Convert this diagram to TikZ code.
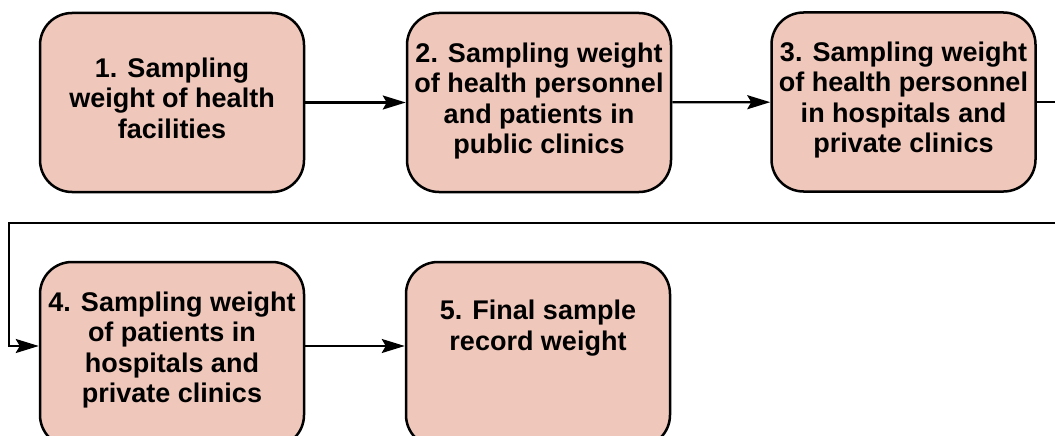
\documentclass[tikz,border=0pt]{standalone}
\usepackage{fontspec}
\setmainfont{Liberation Sans}
\usetikzlibrary{arrows.meta,calc}
\definecolor{boxfill}{RGB}{240,200,187}
\tikzset{
  stepbox/.style={draw=black, line width=2.5pt, fill=boxfill, rounded corners=32pt,
    minimum width=264pt, minimum height=179pt, inner sep=0pt},
  boxtext/.style={align=center, font=\fontsize{27pt}{30.5pt}\selectfont\bfseries, inner sep=0pt},
  conn/.style={line width=2.3pt, -{Stealth[length=23pt,width=14pt,inset=4pt]}},
}
\begin{document}
\begin{tikzpicture}[x=1pt,y=-1pt]
\useasboundingbox (0,0) rectangle (1055,436);
\clip (0,0) rectangle (1055,436);
\node[stepbox] (b1) at (172,102.5) {};
\node[stepbox] (b2) at (539,102.5) {};
\node[stepbox] (b3) at (903.5,102) {};
\node[stepbox, minimum height=185pt] (b4) at (172,354.5) {};
\node[stepbox, minimum height=185pt] (b5) at (538,354.5) {};
\node[boxtext] (t1) at (172,98) {1. Sampling\\weight of health\\facilities};
\node[boxtext] (t2) at (539,101) {2. Sampling weight\\of health personnel\\and patients in\\public clinics};
\node[boxtext] (t3) at (903.5,100) {3. Sampling weight\\of health personnel\\in hospitals and\\private clinics};
\node[boxtext] (t4) at (172,350) {4. Sampling weight\\of patients in\\hospitals and\\private clinics};
\node[boxtext] (t5) at (538,328) {5. Final sample\\record weight};
\coordinate (r2) at (0,346);
\coordinate (c1) at (1075,223);
\coordinate (c2) at (9,223);
\draw[conn] (b1) -- (b2);
\draw[conn] (b2) -- (b3);
\draw[conn] (b3.east) -| (c1) -- (c2) |- (b4.west |- r2);
\draw[conn] (b4.east |- r2) -- (b5.west |- r2);
\end{tikzpicture}
\end{document}
